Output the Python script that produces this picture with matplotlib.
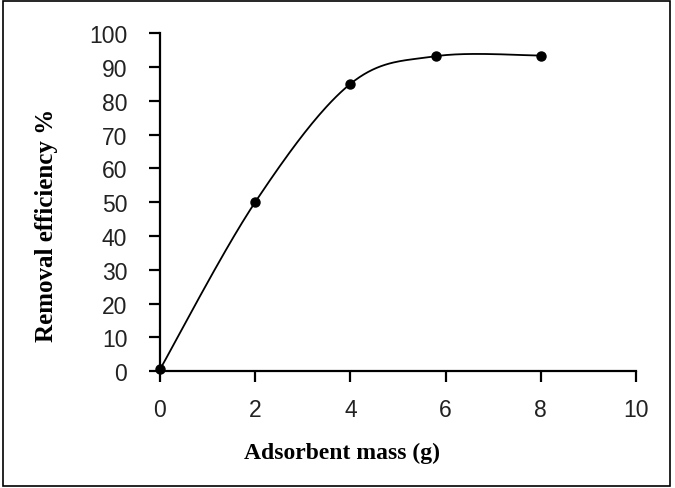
import numpy as np
import matplotlib
matplotlib.use("Agg")
import matplotlib.pyplot as plt
from matplotlib.patches import Rectangle

# data
mass = [0, 2, 4, 5.8, 8]
removal = [0.5, 50, 85, 93.2, 93.4]

x_ticks = [0, 2, 4, 6, 8, 10]
y_ticks = [0, 10, 20, 30, 40, 50, 60, 70, 80, 90, 100]


def smooth(xs, ys, n=40):
    # excel style smoothed line: cubic bezier, catmull-rom control points
    p = np.column_stack([xs, ys]).astype(float)
    pts = [p[0]] + list(p) + [p[-1]]
    out = []
    t = np.linspace(0, 1, n)[:, None]
    for i in range(1, len(pts) - 2):
        p0, p1, p2, p3 = pts[i - 1], pts[i], pts[i + 1], pts[i + 2]
        c1 = p1 + (p2 - p0) / 6
        c2 = p2 - (p3 - p1) / 6
        seg = ((1 - t) ** 3) * p1 + 3 * ((1 - t) ** 2) * t * c1 + 3 * (1 - t) * t ** 2 * c2 + t ** 3 * p2
        out.append(seg)
    out = np.vstack(out)
    return out[:, 0], out[:, 1]


fig = plt.figure(figsize=(6.75, 4.89), dpi=100)
ax = fig.add_axes([0.237, 0.239, 0.705, 0.691])

sx, sy = smooth(mass, removal)
ax.plot(sx, sy, color="black", lw=1.3, clip_on=False)
ax.plot(mass, removal, "o", color="black", ms=6.5, clip_on=False)

ax.set_xlim(0, 10)
ax.set_ylim(0, 100)
ax.set_xticks(x_ticks)
ax.set_yticks(y_ticks)
for s in ["top", "right"]:
    ax.spines[s].set_visible(False)
for s in ["left", "bottom"]:
    ax.spines[s].set_linewidth(1.6)
ax.tick_params(direction="out", length=8, width=1.6, labelsize=16.5,
               labelfontfamily="Liberation Sans", labelcolor="#222222")
ax.tick_params(axis="x", pad=11)
ax.tick_params(axis="y", pad=15.5)

ax.set_xlabel("Adsorbent mass (g)", fontfamily="Liberation Serif",
              fontweight="bold", fontsize=17)
ax.set_ylabel("Removal efficiency %", fontfamily="Liberation Serif",
              fontweight="bold", fontsize=18)
ax.xaxis.set_label_coords(0.383, -0.21)
ax.yaxis.set_label_coords(-0.215, 0.435)

fig.patches.append(Rectangle((0.005, 0.005), 0.988, 0.99, transform=fig.transFigure,
                             fill=False, edgecolor="black", lw=1.2))

fig.savefig("out.png", dpi=100)
